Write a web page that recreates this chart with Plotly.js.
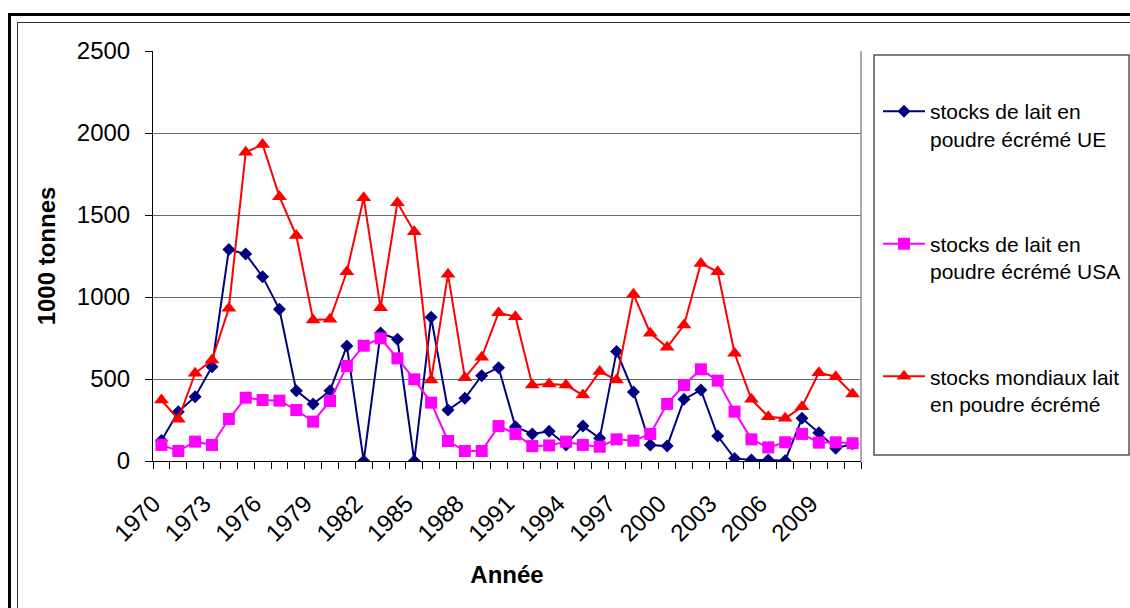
<!DOCTYPE html>
<html>
<head>
<meta charset="utf-8">
<script src="https://cdn.plot.ly/plotly-3.0.1.min.js"></script>
<style>
  html, body { margin: 0; padding: 0; background: #fff; }
  #wrap { position: relative; width: 1130px; height: 608px; overflow: hidden; background: #fff; }
  .frame { position: absolute; box-sizing: border-box; }
  #outer { left: 8px; top: 13px; width: 1200px; height: 700px; border: 3px solid #000; }
  #inner { left: 17px; top: 22px; width: 1200px; height: 700px; border: 1px solid #333; }
  #chart { position: absolute; left: 0; top: 0; width: 1130px; height: 608px; }
</style>
</head>
<body>
<div id="wrap">
  <div id="outer" class="frame"></div>
  <div id="inner" class="frame"></div>
  <div id="chart"></div>
</div>
<script>
// Years 1970–2011
const years = [1970,1971,1972,1973,1974,1975,1976,1977,1978,1979,
               1980,1981,1982,1983,1984,1985,1986,1987,1988,1989,
               1990,1991,1992,1993,1994,1995,1996,1997,1998,1999,
               2000,2001,2002,2003,2004,2005,2006,2007,2008,2009,
               2010,2011];

// Skimmed milk powder stocks, 1000 tonnes
const stocksUE = [125,300,392,575,1290,1262,1124,925,429,348,
                  429,701,0,780,742,0,876,311,382,520,
                  569,209,165,181,98,213,138,667,421,98,
                  91,376,433,152,16,6,6,2,260,173,
                  77,105];

const stocksUSA = [98,61,118,98,256,386,372,368,311,240,
                   366,579,703,748,626,498,356,122,61,61,
                   213,165,91,95,118,98,87,132,124,165,
                   348,463,559,490,301,132,83,114,165,112,
                   114,108];

const stocksMonde = [372,254,535,616,931,1882,1930,1612,1375,860,
                     864,1154,1605,934,1575,1398,494,1138,508,632,
                     904,880,463,470,463,402,545,494,1017,779,
                     693,829,1205,1154,657,376,270,260,331,538,
                     514,409];

// Labelled years on the category axis
const tickYears = [1970,1973,1976,1979,1982,1985,1988,1991,1994,1997,2000,2003,2006,2009];
const yTicks = [0,500,1000,1500,2000,2500];

const seriesNames = [
  'stocks de lait en<br>poudre écrémé UE',
  'stocks de lait en<br>poudre écrémé USA',
  'stocks mondiaux lait<br>en poudre écrémé'
];

const W = 1130, H = 608;
const M = { l: 153, r: 269, t: 51, b: 147, autoexpand: false };
const pw = W - M.l - M.r, ph = H - M.t - M.b;
const px2x = p => (p - M.l) / pw;
const px2y = p => 1 - (p - M.t) / ph;

const font = 'Liberation Sans, Arial, sans-serif';

const traces = [
  { x: years, y: stocksUE, name: seriesNames[0], type: 'scatter', mode: 'lines+markers',
    legendgroup: 'a',
    line: { color: '#000080', width: 2 },
    marker: { symbol: 'diamond', size: 10, color: '#000080' } },
  { x: years, y: stocksUSA, name: seriesNames[1], type: 'scatter', mode: 'lines+markers',
    legendgroup: 'b',
    line: { color: '#FF00FF', width: 2 },
    marker: { symbol: 'square', size: 12, color: '#FF00FF' } },
  { x: years, y: stocksMonde, name: seriesNames[2], type: 'scatter', mode: 'lines+markers',
    legendgroup: 'c',
    line: { color: '#FF0000', width: 2 },
    marker: { symbol: 'triangle-up', size: 13, color: '#FF0000' } }
];

const boundaries = years.map(y => y - 0.5).concat([years[years.length - 1] + 0.5]);

const layout = {
  width: W, height: H,
  margin: M,
  paper_bgcolor: 'rgba(0,0,0,0)',
  plot_bgcolor: 'rgba(0,0,0,0)',
  font: { family: font, color: '#000', size: 24 },
  showlegend: true,
  legend: {
    x: px2x(878), xanchor: 'left',
    y: px2y(91), yanchor: 'top',
    font: { family: font, size: 21, color: '#000' },
    bgcolor: 'rgba(0,0,0,0)',
    borderwidth: 0,
    traceorder: 'grouped',
    tracegroupgap: 75,
    valign: 'top',
    itemwidth: 42
  },
  xaxis: {
    range: [years[0] - 0.5, years[years.length - 1] + 0.5],
    tickmode: 'array',
    tickvals: tickYears,
    ticktext: tickYears.map(String),
    tickangle: -45,
    ticklabelshift: -8,
    ticks: 'outside', ticklen: 18, tickcolor: 'rgba(0,0,0,0)',
    tickfont: { family: font, size: 24, color: '#000' },
    minor: { tickmode: 'array', tickvals: boundaries, ticks: 'outside', ticklen: 7,
             tickcolor: '#000', tickwidth: 1, showgrid: false },
    showline: true, linecolor: '#000', linewidth: 1,
    showgrid: false, zeroline: false,
    title: { text: '<b>Année</b>', font: { family: font, size: 24, color: '#000' }, standoff: 20 }
  },
  yaxis: {
    range: [0, 2500],
    tickmode: 'array', tickvals: yTicks,
    ticks: 'outside', ticklen: 7, tickcolor: '#000',
    ticklabelstandoff: 10,
    tickfont: { family: font, size: 24, color: '#000' },
    showline: true, linecolor: '#000', linewidth: 1,
    showgrid: true, gridcolor: '#6a6a6a', gridwidth: 1,
    zeroline: false,
    title: { text: '<b>1000 tonnes</b>', font: { family: font, size: 24, color: '#000' }, standoff: 14 }
  },
  shapes: [
    // right border of plot area
    { type: 'line', xref: 'paper', yref: 'paper', x0: 1, x1: 1, y0: 0, y1: 1,
      line: { color: '#8c8c8c', width: 1.5 } },
    // legend frame
    { type: 'rect', xref: 'paper', yref: 'paper',
      x0: px2x(874), x1: px2x(1129), y0: px2y(455), y1: px2y(55),
      line: { color: '#555', width: 1.5 }, fillcolor: 'rgba(0,0,0,0)' }
  ]
};

Plotly.newPlot('chart', traces, layout, { displayModeBar: false, staticPlot: true });
</script>
</body>
</html>
